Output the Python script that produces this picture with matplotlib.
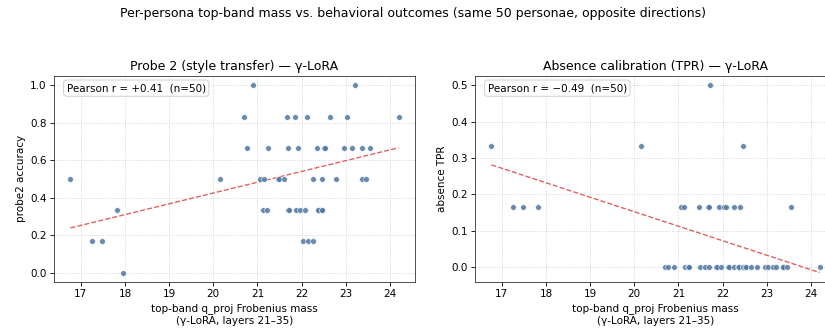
import numpy as np
import matplotlib
matplotlib.use("Agg")
import matplotlib.pyplot as plt

# per-persona top-band q_proj Frobenius mass (gamma-LoRA, layers 21-35)
mass = [16.765, 17.25, 17.49, 17.81, 17.95, 20.16, 20.69, 20.76, 20.91, 21.07,
        21.13, 21.15, 21.22, 21.25, 21.47, 21.49, 21.60, 21.67, 21.70, 21.70,
        21.72, 21.85, 21.87, 21.93, 21.975, 22.04, 22.07, 22.12, 22.15, 22.25,
        22.27, 22.34, 22.39, 22.38, 22.46, 22.46, 22.47, 22.50, 22.54, 22.65,
        22.79, 22.97, 23.04, 23.14, 23.21, 23.36, 23.38, 23.46, 23.56, 24.20]

s = 1 / 6
probe2_acc = [3*s, s, s, 2*s, 0, 3*s, 5*s, 4*s, 1.0, 3*s,
              2*s, 3*s, 2*s, 4*s, 3*s, 3*s, 3*s, 5*s, 4*s, 2*s,
              2*s, 5*s, 2*s, 4*s, 2*s, s, 2*s, 5*s, s, 3*s,
              s, 4*s, 2*s, 2*s, 2*s, 3*s, 2*s, 4*s, 4*s, 5*s,
              3*s, 4*s, 5*s, 4*s, 1.0, 4*s, 3*s, 3*s, 4*s, 5*s]

absence_tpr = [2*s, s, s, s, 3*s, 2*s, 0, 0, 0, s,
               s, 0, 0, 0, s, 0, 0, s, s, 0,
               3*s, 0, 0, s, 0, s, s, 0, 0, 0,
               s, 0, s, 0, 2*s, 0, 0, 0, 0, 0,
               0, 0, 0, 0, 0, 0, 0, 0, s, 0]

panels = [
    (probe2_acc, "Probe 2 (style transfer) — γ-LoRA", "probe2 accuracy", "Pearson r = +0.41  (n=50)"),
    (absence_tpr, "Absence calibration (TPR) — γ-LoRA", "absence TPR", "Pearson r = \u22120.49  (n=50)"),
]

fig = plt.figure(figsize=(11, 4.48), dpi=75)
fig.suptitle("Per-persona top-band mass vs. behavioral outcomes (same 50 personae, opposite directions)",
             fontsize=12)

lefts = [0.0655, 0.5758]
x = np.array(mass)
for left, (vals, title, ylab, note) in zip(lefts, panels):
    ax = fig.add_axes([left, 0.161, 0.4376, 0.613])
    y = np.array(vals)
    ax.scatter(x, y, s=30, color="#4e76a0", alpha=0.85, edgecolors="white", linewidths=0.6, zorder=3)
    # least squares trend line
    k, b = np.polyfit(x, y, 1)
    xs = np.array([x.min(), x.max()])
    ax.plot(xs, k * xs + b, "--", color="#d62728", alpha=0.75, lw=1.3, zorder=2)
    ax.set_title(title, fontsize=12)
    ax.set_ylabel(ylab, fontsize=10)
    ax.set_xlabel("top-band q_proj Frobenius mass\n(γ-LoRA, layers 21–35)", fontsize=10)
    ax.grid(True, linestyle=":", color="#cccccc", linewidth=0.8)
    ax.text(0.035, 0.965, note, transform=ax.transAxes, va="top", ha="left", fontsize=10,
            bbox=dict(boxstyle="round,pad=0.3", fc="white", ec="#cccccc", alpha=0.9), zorder=5)
    for sp in ax.spines.values():
        sp.set_color("#333333")

fig.savefig("out.png", dpi=75)
